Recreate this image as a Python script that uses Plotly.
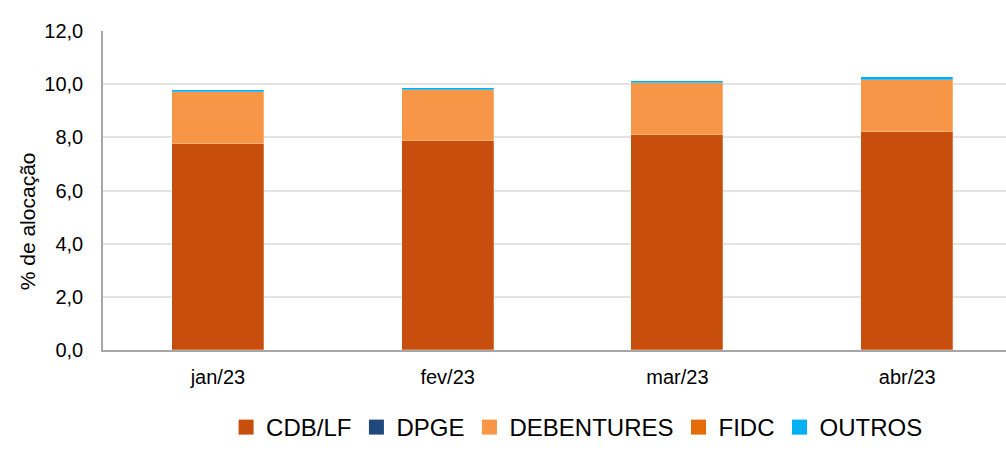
import plotly.graph_objects as go

categories = ["jan/23", "fev/23", "mar/23", "abr/23"]
cdb_lf = [7.75, 7.86, 8.09, 8.19]
dpge = [0.0, 0.0, 0.0, 0.0]
debentures = [1.94, 1.93, 1.97, 1.98]
fidc = [0.0, 0.0, 0.0, 0.0]
outros = [0.09, 0.08, 0.07, 0.09]
y_ticks = [0, 2, 4, 6, 8, 10, 12]
y_tick_labels = ["0,0", "2,0", "4,0", "6,0", "8,0", "10,0", "12,0"]

series = [
    ("CDB/LF", cdb_lf, "#C84E0D"),
    ("DPGE", dpge, "#1F497D"),
    ("DEBENTURES", debentures, "#F79646"),
    ("FIDC", fidc, "#E46C0A"),
    ("OUTROS", outros, "#00B0F0"),
]

fig = go.Figure()
xs = list(range(len(categories)))
for name, vals, color in series:
    fig.add_trace(go.Bar(
        x=xs, y=vals, name=name, showlegend=False,
        marker=dict(color=color, line=dict(width=0.5, color="rgba(255,255,255,0.5)")),
        width=0.4,
    ))
# legend entries with larger square symbols
for name, vals, color in series:
    fig.add_trace(go.Scatter(
        x=[None], y=[None], mode="markers", name=name,
        marker=dict(symbol="square", size=15, color=color),
    ))

fig.update_layout(
    barmode="stack",
    width=1006, height=450,
    margin=dict(l=103, r=0, t=31, b=100, autoexpand=False),
    plot_bgcolor="white", paper_bgcolor="white",
    font=dict(family="Liberation Sans, Arial, sans-serif", color="black"),
    showlegend=True,
    legend=dict(orientation="h", x=0.525, xanchor="center", y=-0.3135, yanchor="bottom",
                font=dict(size=24), itemwidth=30, traceorder="normal",
                bgcolor="rgba(0,0,0,0)"),
    bargap=0,
    annotations=[dict(
        text="% de alocação", textangle=-90, xref="paper", yref="paper",
        x=-0.084, y=0.404, xanchor="center", yanchor="middle", showarrow=False,
        font=dict(size=21),
    )],
)
fig.update_xaxes(
    tickmode="array", tickvals=xs, ticktext=categories,
    range=[-0.5, 3.43], showline=True, linecolor="#A6A6A6", linewidth=1.5,
    showgrid=False, tickfont=dict(size=20), ticks="", ticklen=0,
    ticklabelstandoff=8, automargin=False,
)
fig.update_yaxes(
    range=[0, 12], tickmode="array", tickvals=y_ticks, ticktext=y_tick_labels,
    showline=True, linecolor="#A6A6A6", linewidth=1.5,
    showgrid=True, gridcolor="#E3E3E3", gridwidth=1.5,
    tickfont=dict(size=20), zeroline=False, ticklabelstandoff=14,
    automargin=False,
)
fig.write_html(
    "out.html",
    config={"displayModeBar": False},
    post_script="document.body.style.margin='0';document.body.style.overflow='hidden';",
)
